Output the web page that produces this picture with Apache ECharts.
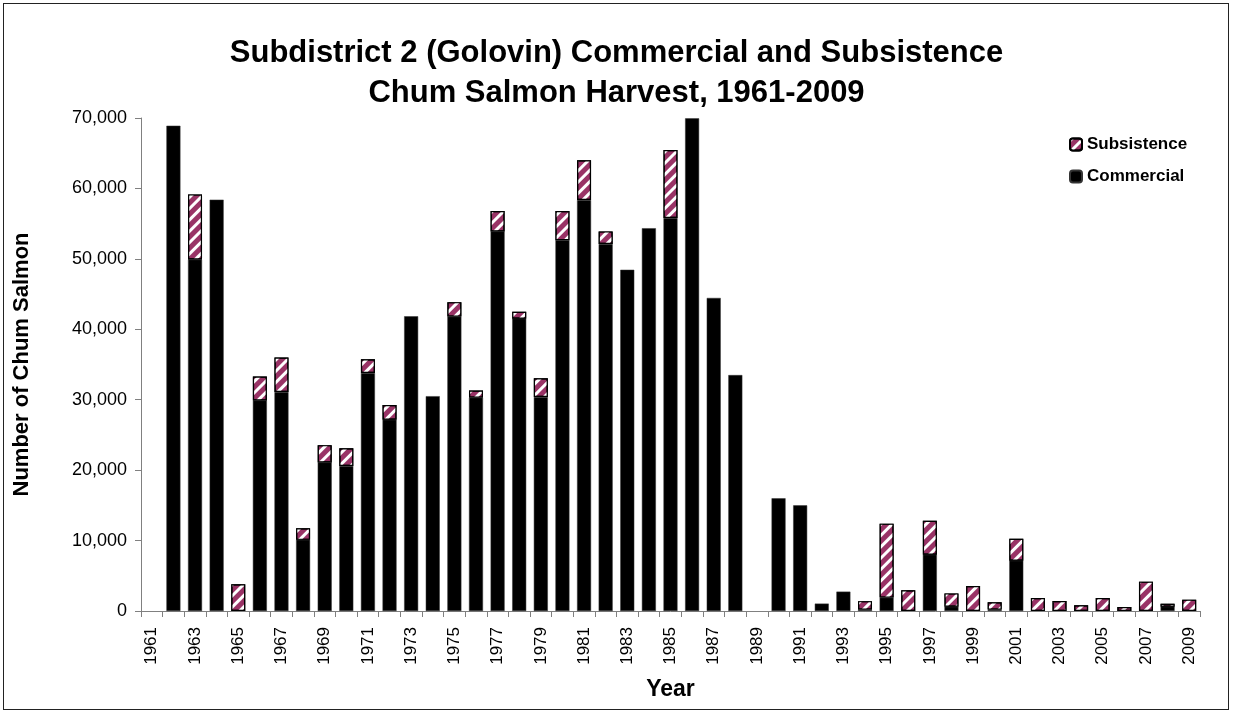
<!DOCTYPE html>
<html>
<head>
<meta charset="utf-8">
<script src="https://cdn.jsdelivr.net/npm/echarts@6/dist/echarts.min.js"></script>
<style>
html,body{margin:0;padding:0;background:#fff;}
#frame{position:absolute;left:3px;top:3px;width:1226px;height:707px;border:1px solid #222;box-sizing:border-box;}
#chart{position:absolute;left:0;top:0;width:1233px;height:714px;}
</style>
</head>
<body>
<div id="frame"></div>
<div id="chart"></div>
<script>
const years = [];
for (let y = 1961; y <= 2009; y++) years.push(String(y));

const commercial = [
  0, 68900, 49900, 58400, 0, 29900, 31100, 10100, 21100, 20600,
  33800, 27150, 41850, 30500, 41800, 30300, 53900, 41500, 30400, 52650,
  58350, 52100, 48450, 54350, 55800, 69950, 44450, 33500, 0, 16000,
  15000, 1050, 2750, 200, 1900, 0, 8000, 600, 0, 200,
  7150, 0, 0, 0, 0, 0, 0, 620, 0
];
const subsistence = [
  0, 0, 9250, 0, 3800, 3400, 4900, 1650, 2450, 2500,
  1950, 2100, 0, 0, 2050, 1000, 2900, 1000, 2650, 4150,
  5650, 1800, 0, 0, 9650, 0, 0, 0, 0, 0,
  0, 0, 0, 1200, 10500, 2950, 4800, 1900, 3550, 1050,
  3100, 1850, 1420, 800, 1850, 570, 4170, 420, 1610
];
const yTicks = [0, 10000, 20000, 30000, 40000, 50000, 60000, 70000];

const font = '"Liberation Sans", Arial, sans-serif';
const chart = echarts.init(document.getElementById('chart'), null, {renderer: 'canvas'});
chart.setOption({
  animation: false,
  backgroundColor: 'transparent',
  title: {
    text: 'Subdistrict 2 (Golovin) Commercial and Subsistence\nChum Salmon Harvest, 1961-2009',
    left: 'center',
    top: 28,
    textStyle: {fontFamily: font, fontSize: 31, fontWeight: 'bold', color: '#000', lineHeight: 40}
  },
  legend: {
    data: ['Subsistence', 'Commercial'],
    orient: 'vertical',
    left: 1064,
    top: 131,
    itemWidth: 12,
    itemHeight: 12,
    itemGap: 15,
    textStyle: {fontFamily: font, fontSize: 17, fontWeight: 'bold', color: '#000'}
  },
  grid: {left: 141, right: 33, top: 118, bottom: 103, containLabel: false},
  xAxis: {
    type: 'category',
    data: years,
    name: 'Year',
    nameLocation: 'middle',
    nameGap: 67,
    nameTextStyle: {fontFamily: font, fontSize: 23, fontWeight: 'bold', color: '#000'},
    axisLine: {lineStyle: {color: '#808080', width: 1}},
    axisTick: {show: true, interval: 0, length: 6, lineStyle: {color: '#808080'}},
    axisLabel: {rotate: 90, interval: 1, margin: 16, fontFamily: font, fontSize: 17, color: '#000'},
    splitLine: {show: false}
  },
  yAxis: {
    type: 'value',
    min: yTicks[0],
    max: yTicks[yTicks.length - 1],
    interval: 10000,
    name: 'Number of Chum Salmon',
    nameLocation: 'middle',
    nameGap: 108,
    nameTextStyle: {fontFamily: font, fontSize: 22, fontWeight: 'bold', color: '#000'},
    axisLine: {show: true, lineStyle: {color: '#808080', width: 1}},
    axisTick: {show: true, length: 6, lineStyle: {color: '#808080'}},
    axisLabel: {
      margin: 14, fontFamily: font, fontSize: 18, color: '#000',
      formatter: v => v.toLocaleString('en-US')
    },
    splitLine: {show: false}
  },
  series: [
    {
      name: 'Commercial',
      type: 'bar',
      stack: 'total',
      barWidth: 14,
      data: commercial.map(v => v || null),
      itemStyle: {color: '#000', borderColor: '#333', borderWidth: 0.5}
    },
    {
      name: 'Subsistence',
      type: 'bar',
      stack: 'total',
      barWidth: 14,
      data: subsistence.map(v => v || null),
      itemStyle: {
        color: '#993366',
        borderColor: '#000',
        borderWidth: 1.2,
        decal: {
          symbol: 'rect',
          symbolSize: 1,
          color: '#ffffff',
          dashArrayX: [1, 0],
          dashArrayY: [3, 4.5],
          rotation: -Math.PI / 4
        }
      }
    }
  ]
});
</script>
</body>
</html>
